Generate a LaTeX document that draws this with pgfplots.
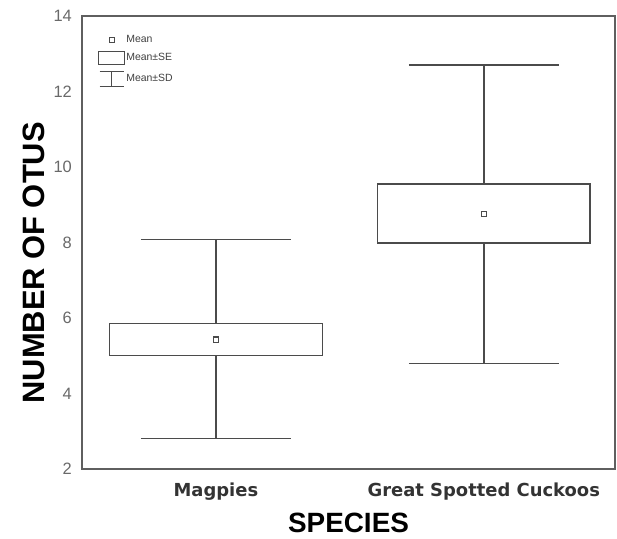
\documentclass[border=0pt]{standalone}
\usepackage{pgfplots}
\pgfplotsset{compat=1.18}
\usepackage{fontspec}
\setmainfont{Liberation Sans}
\newfontfamily\dejavu{DejaVu Sans}
\definecolor{ln}{RGB}{75,75,75}
\definecolor{fr}{RGB}{95,95,95}
\definecolor{tk}{RGB}{105,105,105}
\begin{document}
\begin{tikzpicture}
\useasboundingbox (-82bp,-70bp) rectangle (535bp,469bp);
\begin{axis}[
  name=ax, scale only axis, width=533bp, height=453bp,
  at={(0,0)}, anchor=south west,
  xmin=0.5, xmax=2.49, ymin=2, ymax=14,
  xtick={1,2}, xticklabels={Magpies, Great Spotted Cuckoos},
  ytick={2,4,6,8,10,12,14},
  major tick length=0pt,
  axis line style={draw=fr, line width=1.5bp},
  /pgf/number format/assume math mode=true,
  yticklabel style={font=\fontsize{16.5}{16.5}\selectfont, text=tk, inner sep=0pt, anchor=east, xshift=-10bp},
  xticklabel style={font=\dejavu\bfseries\fontsize{18}{18}\selectfont, text=black!80, inner sep=0pt, anchor=north, yshift=-14bp},
  xlabel={SPECIES}, ylabel={NUMBER OF OTUS},
  xlabel style={font=\bfseries\fontsize{28}{28}\selectfont, at={(axis description cs:0.5,-0.0971)}, anchor=north, inner sep=0pt},
  ylabel style={font=\bfseries\fontsize{31}{31}\selectfont, at={(axis description cs:-0.0694,0.455)}, anchor=south, inner sep=0pt},
  legend style={draw=none, fill=none, at={(axis description cs:0.03,0.96)}, anchor=north west,
     font=\fontsize{10.5}{12}\selectfont, text=black!75, row sep=6bp, inner sep=0pt,
     nodes={inner sep=1bp}},
  legend cell align=left,
]
% Magpies: mean 5.43, SE 5.01-5.85, SD 2.81-8.08
\addplot[ln, line width=1.5bp, forget plot] coordinates {(1,2.81) (1,8.08)};
\addplot[ln, line width=1.5bp, forget plot] coordinates {(0.72,2.81) (1.28,2.81)};
\addplot[ln, line width=1.5bp, forget plot] coordinates {(0.72,8.08) (1.28,8.08)};
\addplot[ln, line width=1.5bp, fill=white, forget plot] coordinates {(0.603,5.01) (1.397,5.01) (1.397,5.85) (0.603,5.85)} -- cycle;
\addplot[ln, only marks, mark=square, mark size=2.6bp, mark options={line width=1.2bp}, forget plot] coordinates {(1,5.43)};
% Great Spotted Cuckoos: mean 8.76, SE 7.99-9.55, SD 4.79-12.70
\addplot[ln, line width=1.5bp, forget plot] coordinates {(2,4.79) (2,12.70)};
\addplot[ln, line width=1.5bp, forget plot] coordinates {(1.72,4.79) (2.28,4.79)};
\addplot[ln, line width=1.5bp, forget plot] coordinates {(1.72,12.70) (2.28,12.70)};
\addplot[ln, line width=1.5bp, fill=white, forget plot] coordinates {(1.603,7.99) (2.397,7.99) (2.397,9.55) (1.603,9.55)} -- cycle;
\addplot[ln, only marks, mark=square, mark size=2.6bp, mark options={line width=1.2bp}, forget plot] coordinates {(2,8.76)};
% legend
\addlegendimage{legend image code/.code={\draw[ln, line width=1.1bp] (10.5bp,-2.5bp) rectangle (15.5bp,2.5bp);}}
\addlegendentry{Mean}
\addlegendimage{legend image code/.code={\draw[ln, line width=1.1bp] (0bp,-6.5bp) rectangle (26bp,6.5bp);}}
\addlegendentry{Mean±SE}
\addlegendimage{legend image code/.code={\draw[ln, line width=1.1bp] (1bp,7bp) -- (25bp,7bp) (13bp,7bp) -- (13bp,-8bp) (1bp,-8bp) -- (25bp,-8bp);}}
\addlegendentry{Mean±SD}
\end{axis}
\end{tikzpicture}
\end{document}
